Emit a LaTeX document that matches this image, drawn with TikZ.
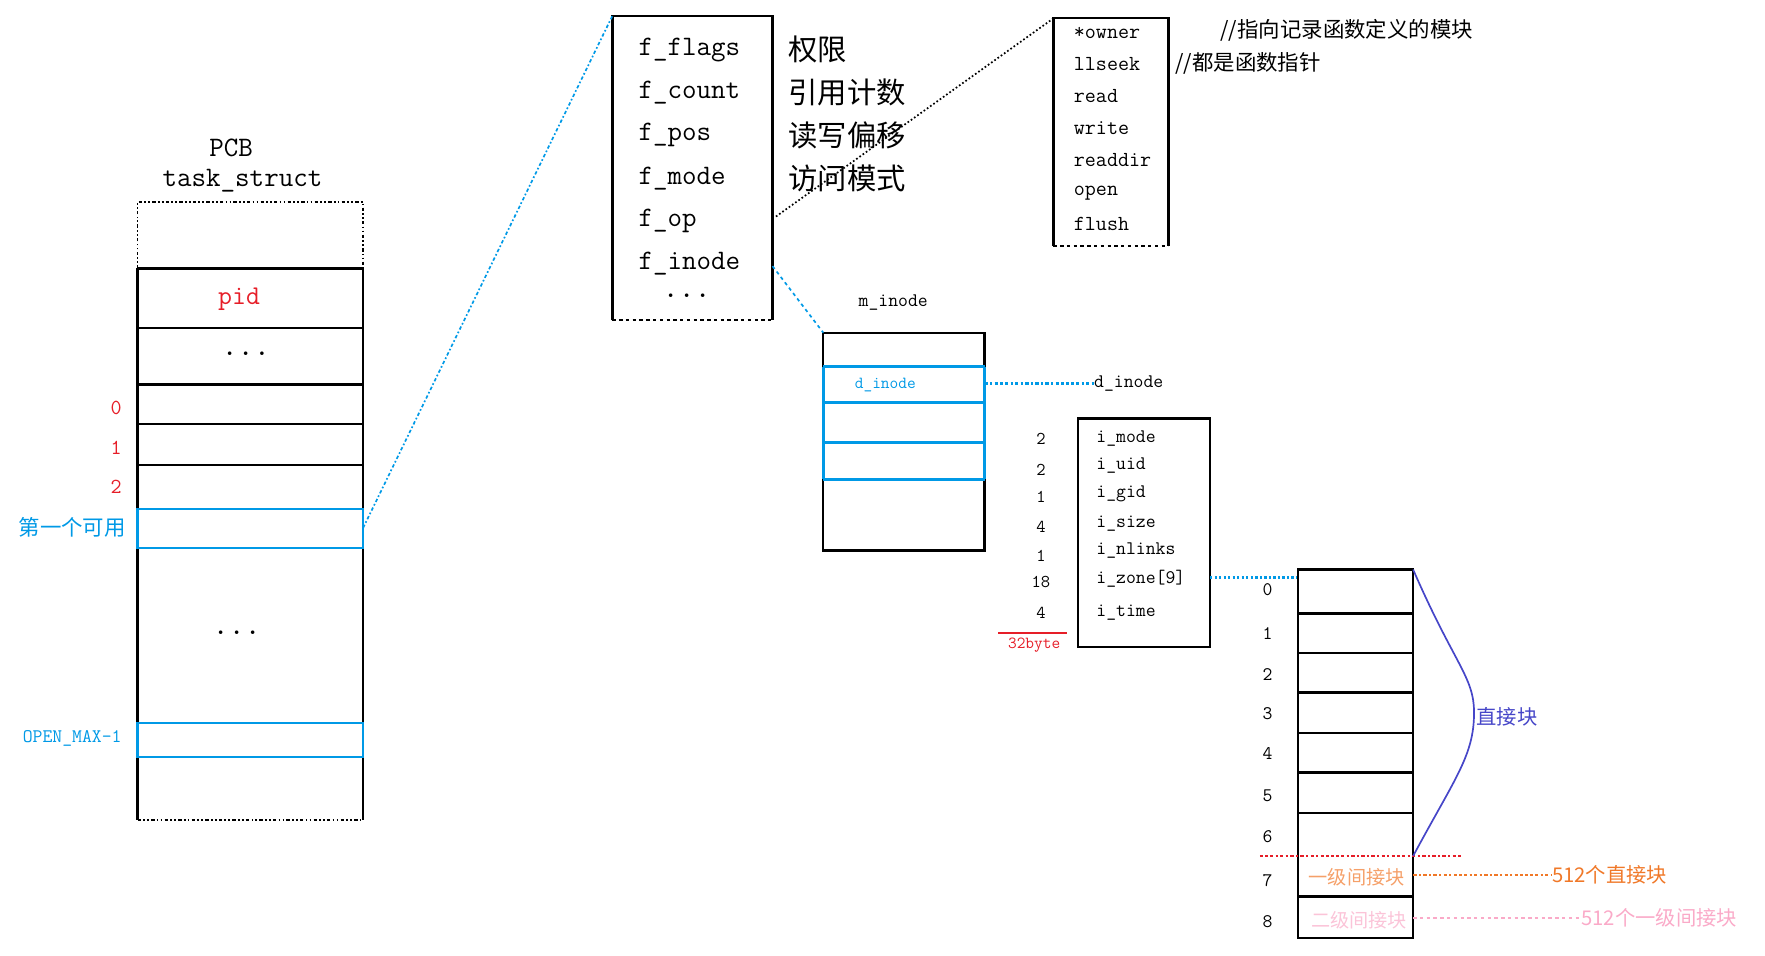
\documentclass[tikz,border=0pt]{standalone}
\usepackage{fontspec}
\newfontfamily\cjk{Noto Sans CJK SC}
\begin{document}
\begin{tikzpicture}[x=1pt,y=-1pt,
  box/.style={line width=2pt},
  cyanl/.style={draw=cyan!80!blue,line width=2pt},
  t/.style={font=\ttfamily\fontsize{#1}{#1}\selectfont,inner sep=0pt},
  t/.default=20,
  c/.style={font=\cjk\fontsize{#1}{#1}\selectfont,inner sep=0pt},
  c/.default=20]
\definecolor{myblue}{RGB}{0,153,230}
\definecolor{myred}{RGB}{230,30,40}
\definecolor{mypurple}{RGB}{70,70,200}
\definecolor{myorange}{RGB}{240,120,40}
\definecolor{mypink}{RGB}{250,170,200}
\useasboundingbox (0,0) rectangle (1565,847);
% PCB
\node[t=25] (pcb) at (205,131) {PCB};
\node[t=25] (ts) at (215,160) {task\_struct};
\draw[line width=1.5pt,dash dot dot] (122,238) -- (122,179) -- (322,179) -- (322,238);
\draw[box] (122,238) -- (122,727) (322,238) -- (322,727);
\draw[line width=1.5pt,dash dot dot] (122,727) -- (322,727);
\foreach \y in {238,291,341,376,412} \draw[box] (122,\y) -- (322,\y);
\foreach \y in {451,486,641,671} \draw[draw=myblue,line width=2pt] (122,\y) -- (322,\y);
\draw[draw=myblue,line width=2pt] (122,451) rectangle (322,486) (122,641) rectangle (322,671);
\node[t=24,text=myred] (pid) at (212,265) {pid};
\node[font=\bfseries\fontsize{22}{22}\selectfont] (d1) at (218,314) {.\,\,.\,\,.};
\node[font=\bfseries\fontsize{22}{22}\selectfont] (d2) at (210,561) {.\,\,.\,\,.};
\node[t=19,text=myred] (n0) at (103,362) {0};
\node[t=19,text=myred] (n1) at (103,397) {1};
\node[t=19,text=myred] (n2) at (103,432) {2};
\node[c=19,text=myblue] (avail) at (64,468) {第一个可用};
\node[t=17,text=myblue] (omax) at (64,655) {OPEN\_MAX-1};
\coordinate (availR) at (322,468);
% file struct
\draw[box] (543,284) -- (543,14) -- (685,14) -- (685,284);
\draw[line width=1.5pt,dashed] (543,284) -- (685,284);
\coordinate (fileTL) at (543,14);
\foreach \s/\y in {f\_flags/44,f\_count/82,f\_pos/120,f\_mode/158,f\_op/196,f\_inode/234}
  \node[t=25,anchor=west] at (566,\y) {\s};
\node[font=\bfseries\fontsize{22}{22}\selectfont] (d3) at (609,262) {.\,\,.\,\,.};
\foreach \s/\y in {权限/44,引用计数/82,读写偏移/120,访问模式/158}
  \node[c=26,anchor=west] at (699,\y) {\s};
\draw[myblue,line width=1.5pt,dash dot] (availR) -- (fileTL);
% ops box
\draw[box] (934,218) -- (934,16) -- (1036,16) -- (1036,218);
\draw[line width=1.5pt,dashed] (934,218) -- (1036,218);
\foreach \s/\y in {*owner/29,llseek/57,read/85,write/114,readdir/142,open/171,flush/199}
  \node[t=19,anchor=west] at (952,\y) {\s};
\node[c=19,anchor=west] (cm1) at (1082,27) {//指向记录函数定义的模块};
\node[c=19,anchor=west] (cm2) at (1042,56) {//都是函数指针};
\coordinate (fop) at (688,192);
\coordinate (opsTL) at (933,17);
\draw[line width=1.5pt,dotted] (fop) -- (opsTL);
% m_inode
\node[t=17] (mi) at (792,268) {m\_inode};
\draw[box] (730,295) rectangle (873,488);
\foreach \y in {325,357,392,425} \draw[draw=myblue,line width=2.5pt] (730,\y) -- (873,\y);
\draw[draw=myblue,line width=2.5pt] (730,325) -- (730,425) (873,325) -- (873,425);
\node[t=15,text=myblue] (din) at (785,341) {d\_inode};
\coordinate (finode) at (685,236);
\coordinate (miTL) at (730,295);
\draw[myblue,line width=1.5pt,dashed] (finode) -- (miTL);
\node[t=17,anchor=west] (din2) at (970,340) {d\_inode};
\coordinate (miR) at (873,340);
\draw[myblue,line width=2pt,dash dot] (miR) -- (din2.west);
% d_inode box
\draw[box] (956,371) rectangle (1073,574);
\foreach \s/\y in {i\_mode/389,i\_uid/413,i\_gid/438,i\_size/464,i\_nlinks/488,i\_zone[9]/513,i\_time/543}
  \node[t=17,anchor=west] at (972,\y) {\s};
\foreach \s/\y in {2/389,2/417,1/441,4/467,1/493,18/516,4/543}
  \node[t=16] at (923,\y) {\s};
\draw[myred,line width=2pt] (885,561) -- (946,561);
\node[t=15,text=myred] (byte) at (917,572) {32byte};
\coordinate (izone) at (1073,512);
\coordinate (zTL) at (1151,512);
\draw[myblue,line width=2pt,dotted] (izone) -- (zTL);
% zone box
\draw[box] (1151,505) rectangle (1253,832);
\foreach \y in {544,579,614,650,685,721,795} \draw[box] (1151,\y) -- (1253,\y);
\foreach \n/\y in {0/523,1/562,2/598,3/633,4/668,5/706,6/742,7/781,8/817}
  \node[t=17] at (1124,\y) {\n};
\draw[myred,line width=2pt,dash dot] (1117,759) -- (1296,759);
\coordinate (z0) at (1253,505);
\coordinate (z6) at (1253,759);
\draw[mypurple,line width=1.5pt] (z0) .. controls (1290,590) and (1307,600) .. (1307,632) .. controls (1307,670) and (1290,690) .. (z6);
\node[c=18,text=mypurple,anchor=west] (direct) at (1309,636) {直接块};
\node[c=17,text=myorange!70] (l1) at (1203,778) {一级间接块};
\node[c=18,text=myorange,anchor=west] (l1t) at (1376,776) {512个直接块};
\draw[myorange,line width=2pt,dash dot] (1253,776) -- (l1t.west);
\node[c=17,text=mypink!70] (l2) at (1205,816) {二级间接块};
\node[c=18,text=mypink,anchor=west] (l2t) at (1402,814) {512个一级间接块};
\draw[mypink,line width=2pt,dashed] (1253,814) -- (l2t.west);
\end{tikzpicture}
\end{document}
